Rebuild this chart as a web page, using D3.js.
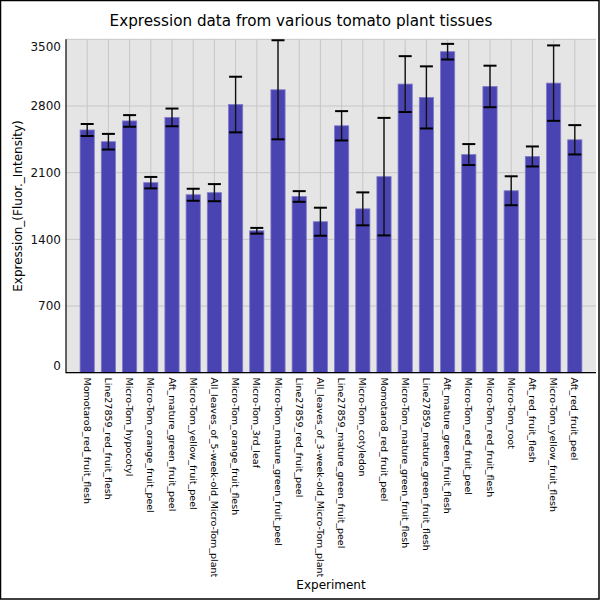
<!DOCTYPE html>
<html>
<head>
<meta charset="utf-8">
<script src="https://cdn.jsdelivr.net/npm/d3@7"></script>
<style>
  html, body { margin: 0; padding: 0; background: #fff; }
  svg { display: block; }
  text { font-family: "DejaVu Sans", sans-serif; }
</style>
</head>
<body>
<script>
const categories = [
  "Momotaro8_red_fruit_flesh",
  "Line27859_red_fruit_flesh",
  "Micro-Tom_hypocotyl",
  "Micro-Tom_orange_fruit_peel",
  "Aft_mature_green_fruit_peel",
  "Micro-Tom_yellow_fruit_peel",
  "All_leaves_of_5-week-old_Micro-Tom_plant",
  "Micro-Tom_orange_fruit_flesh",
  "Micro-Tom_3rd_leaf",
  "Micro-Tom_mature_green_fruit_peel",
  "Line27859_red_fruit_peel",
  "All_leaves_of_3-week-old_Micro-Tom_plant",
  "Line27859_mature_green_fruit_peel",
  "Micro-Tom_cotyledon",
  "Momotaro8_red_fruit_peel",
  "Micro-Tom_mature_green_fruit_flesh",
  "Line27859_mature_green_fruit_flesh",
  "Aft_mature_green_fruit_flesh",
  "Micro-Tom_red_fruit_peel",
  "Micro-Tom_red_fruit_flesh",
  "Micro-Tom_root",
  "Aft_red_fruit_flesh",
  "Micro-Tom_yellow_fruit_flesh",
  "Aft_red_fruit_peel"
];
const values = [2548, 2425, 2643, 1995, 2680, 1868, 1890, 2815, 1490, 2970, 1850, 1585, 2592, 1720, 2058, 3030, 2890, 3370, 2290, 3005, 1910, 2270, 3040, 2445];
const errors = [63, 82, 61, 60, 93, 63, 90, 292, 30, 520, 56, 147, 154, 173, 617, 293, 326, 82, 110, 218, 152, 105, 396, 154];
const yTicks = [0, 700, 1400, 2100, 2800, 3500];

const W = 600, H = 600;
const m = { left: 66, right: 596, top: 39.3, bottom: 372.7 };

const svg = d3.select("body").append("svg").attr("width", W).attr("height", H);

svg.append("rect").attr("x", 0).attr("y", 0).attr("width", W).attr("height", H).attr("fill", "#fff");

const x = d3.scalePoint().domain(categories).range([m.left, m.right]).padding(1);
const step = x.step();
const bw = step * 0.67;
const y = d3.scaleLinear().domain([0, 3500]).range([m.bottom, m.top]);

// plot background
svg.append("rect")
  .attr("x", m.left).attr("y", m.top)
  .attr("width", m.right - m.left).attr("height", m.bottom - m.top)
  .attr("fill", "#e5e5e5");

// grid
const grid = svg.append("g");
grid.selectAll("line.h").data(yTicks).join("line")
  .attr("x1", m.left).attr("x2", m.right)
  .attr("y1", d => y(d)).attr("y2", d => y(d))
  .attr("stroke", "#c6c6c6").attr("stroke-width", 1);
grid.selectAll("line.v").data(categories).join("line")
  .attr("x1", d => x(d)).attr("x2", d => x(d))
  .attr("y1", m.top).attr("y2", m.bottom)
  .attr("stroke", "#c6c6c6").attr("stroke-width", 1);

// bars
svg.append("g").selectAll("rect").data(categories).join("rect")
  .attr("x", d => x(d) - bw / 2)
  .attr("y", (d, i) => y(values[i]))
  .attr("width", bw)
  .attr("height", (d, i) => y(0) - y(values[i]))
  .attr("fill", "#4a44b2")
  .attr("stroke", "#7f7ac8")
  .attr("stroke-width", 0.8);

// error bars
const eb = svg.append("g");
const capW = 13;
categories.forEach((c, i) => {
  const cx = x(c);
  const hi = y(values[i] + errors[i]);
  const lo = y(values[i] - errors[i]);
  eb.append("line").attr("x1", cx).attr("x2", cx).attr("y1", hi).attr("y2", lo)
    .attr("stroke", "#111").attr("stroke-width", 1.4);
  [hi, lo].forEach(yy => {
    eb.append("line").attr("x1", cx - capW / 2).attr("x2", cx + capW / 2)
      .attr("y1", yy).attr("y2", yy)
      .attr("stroke", "#000").attr("stroke-width", 2);
  });
});

// axes lines
svg.append("line").attr("x1", m.left).attr("x2", m.left).attr("y1", m.top).attr("y2", m.bottom + 0.5)
  .attr("stroke", "#000").attr("stroke-width", 1.2);
svg.append("line").attr("x1", m.left).attr("x2", m.right).attr("y1", m.bottom).attr("y2", m.bottom)
  .attr("stroke", "#000").attr("stroke-width", 1.2);

// y tick labels
svg.append("g").selectAll("text").data(yTicks).join("text")
  .attr("x", 61)
  .attr("y", d => {
    let p = y(d);
    if (d === 3500) p += 7.5;
    if (d === 0) p -= 6.5;
    return p;
  })
  .attr("dy", "0.35em")
  .attr("text-anchor", "end")
  .attr("font-size", 12)
  .attr("fill", "#111")
  .text(d => d);

// x tick labels
svg.append("g").selectAll("text").data(categories).join("text")
  .attr("transform", d => `translate(${x(d)},377.5) rotate(90)`)
  .attr("dy", "0.35em")
  .attr("text-anchor", "start")
  .attr("font-size", 9.5)
  .attr("fill", "#000")
  .text(d => d);

// titles
svg.append("text").attr("x", 301).attr("y", 26).attr("text-anchor", "middle")
  .attr("font-size", 15.2).attr("fill", "#000")
  .text("Expression data from various tomato plant tissues");
svg.append("text").attr("transform", "translate(22,206) rotate(-90)")
  .attr("text-anchor", "middle").attr("font-size", 12).attr("fill", "#000")
  .text("Expression_(Fluor._Intensity)");
svg.append("text").attr("x", 331).attr("y", 589).attr("text-anchor", "middle")
  .attr("font-size", 12).attr("fill", "#000")
  .text("Experiment");

// outer frame
svg.append("rect").attr("x", 0.5).attr("y", 0.5).attr("width", W - 1.5).attr("height", H - 1.5)
  .attr("fill", "none").attr("stroke", "#000").attr("stroke-width", 1.5);
</script>
</body>
</html>
